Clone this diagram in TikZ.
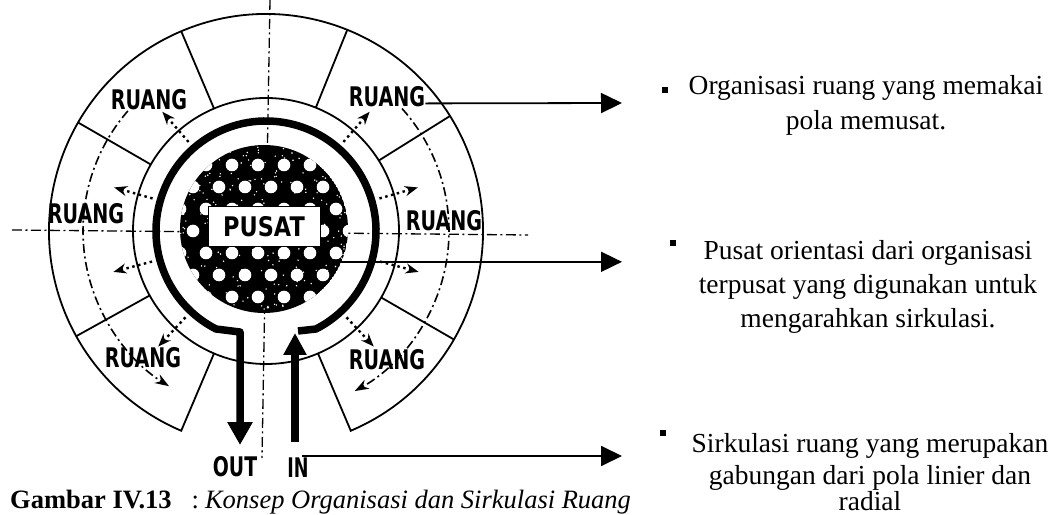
\documentclass[tikz,border=0pt]{standalone}
\usepackage{fontspec}
\setmainfont{Liberation Serif}
\newfontfamily\labfont{DejaVu Sans}
\usetikzlibrary{arrows.meta,calc}
\begin{document}
\begin{tikzpicture}[x=1pt,y=1pt,
  ringline/.style={line width=1.8pt},
  axisline/.style={line width=1.3pt, dash pattern=on 10pt off 3.5pt on 2pt off 3.5pt},
  radarrow/.style={line width=2.4pt, dash pattern=on 2.5pt off 3.5pt, -{Stealth[length=13pt,width=10pt]}},
  circarrow/.style={line width=1.6pt, dash pattern=on 9pt off 3.5pt on 2pt off 3.5pt, -{Stealth[length=14pt,width=10pt]}},
  thickpath/.style={line width=7.5pt, line join=round},
  callout/.style={line width=1.8pt, -{Triangle[length=21pt,width=20pt]}},
  lbl/.style={font=\labfont\bfseries\fontsize{27}{27}\selectfont, inner sep=0pt},
  rtext/.style={font=\fontsize{27.5}{30}\selectfont, inner sep=0pt, anchor=base},
  bullet/.style={fill, minimum size=6pt, inner sep=0pt},
]
\useasboundingbox (0,0) rectangle (1054,514);
\coordinate (C) at (266,283);
\coordinate (P) at (264,285);

% axes
\coordinate (vtop) at (270,514);
\coordinate (vbot) at (262,56);
\coordinate (hl) at (12,284);
\coordinate (hr) at (528,279);
\draw[axisline] (vtop) -- (vbot);
\draw[axisline] (hl) -- (hr);

% ring of rooms
\draw[ringline] (C) circle[radius=133];
\draw[ringline] ($(C)+(-67:133)$) -- ($(C)+(-67:217)$) arc[start angle=-67, end angle=247, radius=217] -- ($(C)+(247:133)$);
\foreach \a in {32,68,113,150,209,-30}
  \draw[ringline] ($(C)+(\a:133)$) -- ($(C)+(\a:217)$);

% circulation arcs
\draw[circarrow] ($(C)+(42:183)$) arc[start angle=42, end angle=-61, radius=183];
\draw[circarrow] ($(C)+(139:183)$) arc[start angle=139, end angle=238, radius=183];

% radial dotted arrows
\foreach \a in {131,164,195,227,49,16,-15,-47}
  \draw[radarrow] ($(C)+(\a:118)$) -- ($(C)+(\a:158)$);

% thick circulation path with OUT / IN
\coordinate (ringstart) at (298,183);
\coordinate (outc) at (240,182);
\coordinate (outtip) at (240,69);
\coordinate (inb) at (295,72);
\coordinate (intip) at (295,181);
\draw[thickpath, -{Triangle[length=23pt,width=24pt]}] (ringstart) -- ($(C)+(-63:110)$) arc[start angle=-63, end angle=243, radius=110] -- (outc) -- (outtip);
\draw[thickpath, line width=8pt, -{Triangle[length=22pt,width=22pt]}] (inb) -- (intip);

% centre (pusat)
\begin{scope}
\clip (P) circle[radius=84];
\fill (P) circle[radius=84];
\foreach \j in {-3,...,3} {
  \pgfmathsetmacro{\off}{ifthenelse(mod(abs(\j),2)==1,-6,7)}
  \foreach \k in {-4,...,4} {
    \fill[white] ($(P)+(\off+26*\k, -22*\j-2)$) circle[radius=6.3];
  }
}
\pgfmathsetseed{12}
\foreach \i in {1,...,300} {
  \fill[white] ($(P)+(84*rand, 84*rand)$) circle[radius=0.8];
}
\end{scope}
\node[lbl, draw, line width=1pt, fill=white, minimum width=112pt, minimum height=40pt] (pusat) at (264,287) {\scalebox{0.83}[1]{PUSAT}};

% labels
\node[lbl] (ul) at (149,414) {\scalebox{0.71}[1]{RUANG}};
\node[lbl] (l)  at (86,300)  {\scalebox{0.71}[1]{RUANG}};
\node[lbl] (ur) at (387,417) {\scalebox{0.71}[1]{RUANG}};
\node[lbl] (r)  at (444,293) {\scalebox{0.71}[1]{RUANG}};
\node[lbl] (ll) at (143,156) {\scalebox{0.71}[1]{RUANG}};
\node[lbl] (lr) at (387,154) {\scalebox{0.71}[1]{RUANG}};
\node[lbl] (out) at (235,47) {\scalebox{0.7}[1]{OUT}};
\node[lbl] (in)  at (298,46) {\scalebox{0.65}[1]{IN}};

% callout arrows
\coordinate (a1s) at ($(ur.south east)+(0,4)$);
\coordinate (a1e) at (622,411);
\coordinate (a2s) at ($(P)+(-23:84)$);
\coordinate (a2e) at (622,251);
\coordinate (a3s) at (302,58);
\coordinate (a3e) at (622,58);
\draw[callout] (a1s) -- (a1e);
\draw[callout] (a2s) -- (a2s -| a2e);
\draw[callout] (a3s) -- (a3e);

% right texts
\node[bullet] (b1) at (665,424) {};
\node[rtext] (t1a) at (866,419) {Organisasi ruang yang memakai};
\node[rtext] (t1b) at (866,384) {pola memusat.};
\node[bullet] (b2) at (673,271) {};
\node[rtext] (t2a) at (868,254) {Pusat orientasi dari organisasi};
\node[rtext] (t2b) at (868,220) {terpusat yang digunakan untuk};
\node[rtext] (t2c) at (868,186) {mengarahkan sirkulasi.};
\node[bullet] (b3) at (663,81) {};
\node[rtext] (t3a) at (870,62) {Sirkulasi ruang yang merupakan};
\node[rtext] (t3b) at (870,30) {gabungan dari pola linier dan};
\node[rtext] (t3c) at (870,4) {radial};

% caption
\node[anchor=base west, inner sep=0pt, font=\fontsize{26.5}{28}\selectfont] (cap) at (10,6) {\textbf{Gambar IV.13}\hspace{20pt}:\hspace{6pt}\textit{Konsep Organisasi dan Sirkulasi Ruang}};
\end{tikzpicture}
\end{document}
